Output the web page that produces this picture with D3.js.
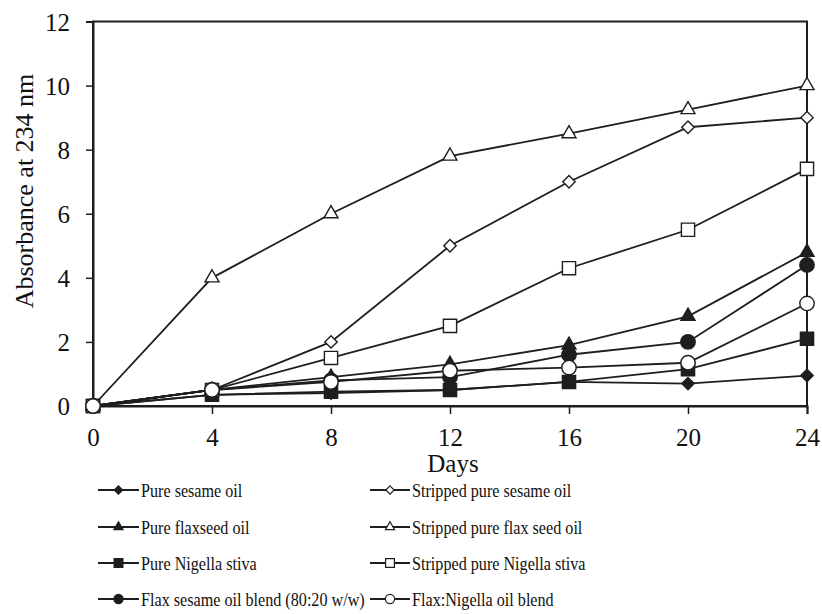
<!DOCTYPE html>
<html>
<head>
<meta charset="utf-8">
<script src="https://cdn.jsdelivr.net/npm/d3@7/dist/d3.min.js"></script>
<style>
  html, body { margin: 0; padding: 0; background: #fff; }
  svg { display: block; font-family: "Liberation Serif", "Times New Roman", serif; }
</style>
</head>
<body>
<svg id="chart" width="822" height="614"></svg>
<script>
// Storage days
const days = [0, 4, 8, 12, 16, 20, 24];

// Absorbance at 234 nm for each oil sample
const pureSesame      = [0, 0.35, 0.40, 0.50, 0.75, 0.70, 0.95];
const strippedSesame  = [0, 0.50, 2.00, 5.00, 7.00, 8.70, 9.00];
const pureFlax        = [0, 0.50, 0.90, 1.30, 1.90, 2.80, 4.80];
const strippedFlax    = [0, 4.00, 6.00, 7.80, 8.50, 9.25, 10.00];
const pureNigella     = [0, 0.35, 0.45, 0.50, 0.75, 1.15, 2.10];
const strippedNigella = [0, 0.50, 1.50, 2.50, 4.30, 5.50, 7.40];
const flaxSesameBlend = [0, 0.50, 0.80, 0.90, 1.60, 2.00, 4.40];
const flaxNigellaBlend= [0, 0.50, 0.75, 1.10, 1.20, 1.35, 3.20];

const seriesNames = [
  "Pure sesame oil", "Stripped pure sesame oil",
  "Pure flaxseed oil", "Stripped pure flax seed oil",
  "Pure Nigella stiva", "Stripped pure Nigella stiva",
  "Flax sesame oil blend (80:20 w/w)", "Flax:Nigella oil blend"
];
const seriesValues = [
  pureSesame, strippedSesame, pureFlax, strippedFlax,
  pureNigella, strippedNigella, flaxSesameBlend, flaxNigellaBlend
];
const seriesShapes = ["diamond", "diamond", "triangle", "triangle", "square", "square", "circle", "circle"];
const seriesFilled = [true, false, true, false, true, false, true, false];

const xTicks = [0, 4, 8, 12, 16, 20, 24];
const yTicks = [0, 2, 4, 6, 8, 10, 12];

const svg = d3.select("#chart");
const ink = "#1e1e1e";

const x = d3.scaleLinear().domain([0, 24]).range([93, 807]);
const y = d3.scaleLinear().domain([0, 12]).range([406, 21.5]);

// plot frame
svg.append("rect")
  .attr("x", x(0)).attr("y", y(12))
  .attr("width", x(24) - x(0)).attr("height", y(0) - y(12))
  .attr("fill", "none").attr("stroke", ink).attr("stroke-width", 2);

// axes
const xAxis = svg.append("g")
  .attr("transform", `translate(0,${y(0)})`)
  .call(d3.axisBottom(x).tickValues(xTicks).tickSize(8).tickPadding(14).tickFormat(d3.format("d")));
const yAxis = svg.append("g")
  .attr("transform", `translate(${x(0)},0)`)
  .call(d3.axisLeft(y).tickValues(yTicks).tickSize(7).tickPadding(16).tickFormat(d3.format("d")));

[xAxis, yAxis].forEach(g => {
  g.attr("font-family", null);
  g.select(".domain").attr("stroke", ink).attr("stroke-width", 2);
  g.selectAll(".tick line").attr("stroke", ink).attr("stroke-width", 1.5);
  g.selectAll(".tick text")
    .attr("fill", "#111")
    .style("font-family", "'Liberation Serif', 'Times New Roman', serif")
    .style("font-size", "25px");
});
yAxis.selectAll(".tick text").attr("dy", "0.34em");
xAxis.selectAll(".tick text").attr("dy", "0.71em");

// axis titles
svg.append("text")
  .attr("x", 453).attr("y", 472)
  .attr("text-anchor", "middle")
  .attr("fill", "#111")
  .style("font-size", "25px")
  .text("Days");

svg.append("text")
  .attr("transform", "translate(33,191) rotate(-90)")
  .attr("text-anchor", "middle")
  .attr("fill", "#111")
  .style("font-size", "26px")
  .text("Absorbance at 234 nm");

// marker outlines; r is the half-width of the mark
function symbolPath(shape, r) {
  if (shape === "diamond") {
    return `M0,${-r}L${r},0L0,${r}L${-r},0Z`;
  }
  if (shape === "triangle") {
    const h = r * Math.sqrt(3);
    return `M0,${-h * 2 / 3}L${r},${h / 3}L${-r},${h / 3}Z`;
  }
  if (shape === "square") {
    return `M${-r},${-r}H${r}V${r}H${-r}Z`;
  }
  return d3.symbol().type(d3.symbolCircle).size(Math.PI * r * r)();
}
const markerSize = { diamond: 6.2, triangle: 7, square: 6.6, circle: 7.2 };

const line = d3.line().x((d, i) => x(days[i])).y(d => y(d));

seriesValues.forEach((vals, s) => {
  const g = svg.append("g");
  g.append("path")
    .datum(vals)
    .attr("d", line)
    .attr("fill", "none")
    .attr("stroke", ink)
    .attr("stroke-width", 1.8);
  g.selectAll("path.mark")
    .data(vals)
    .join("path")
    .attr("class", "mark")
    .attr("transform", (d, i) => `translate(${x(days[i])},${y(d)})`)
    .attr("d", symbolPath(seriesShapes[s], markerSize[seriesShapes[s]]))
    .attr("fill", seriesFilled[s] ? ink : "#fff")
    .attr("stroke", ink)
    .attr("stroke-width", 1.4);
});

// legend: two columns, filled row by row
const legendRows = [490, 527, 563, 599];
const legendCols = [{ x0: 98, x1: 139, text: 141 }, { x0: 370, x1: 410, text: 412 }];
const legendSize = { diamond: 4.2, triangle: 4.6, square: 4.4, circle: 4.6 };

seriesNames.forEach((name, s) => {
  const col = legendCols[s % 2];
  const ry = legendRows[Math.floor(s / 2)];
  const g = svg.append("g");
  g.append("line")
    .attr("x1", col.x0).attr("x2", col.x1)
    .attr("y1", ry).attr("y2", ry)
    .attr("stroke", ink).attr("stroke-width", 1.8);
  g.append("path")
    .attr("transform", `translate(${(col.x0 + col.x1) / 2},${ry})`)
    .attr("d", symbolPath(seriesShapes[s], legendSize[seriesShapes[s]]))
    .attr("fill", seriesFilled[s] ? ink : "#fff")
    .attr("stroke", ink)
    .attr("stroke-width", 1.2);
  g.append("text")
    .attr("transform", `translate(${col.text},${ry + 6.5}) scale(0.85,1)`)
    .attr("fill", "#111")
    .style("font-size", "19px")
    .text(name);
});
</script>
</body>
</html>
